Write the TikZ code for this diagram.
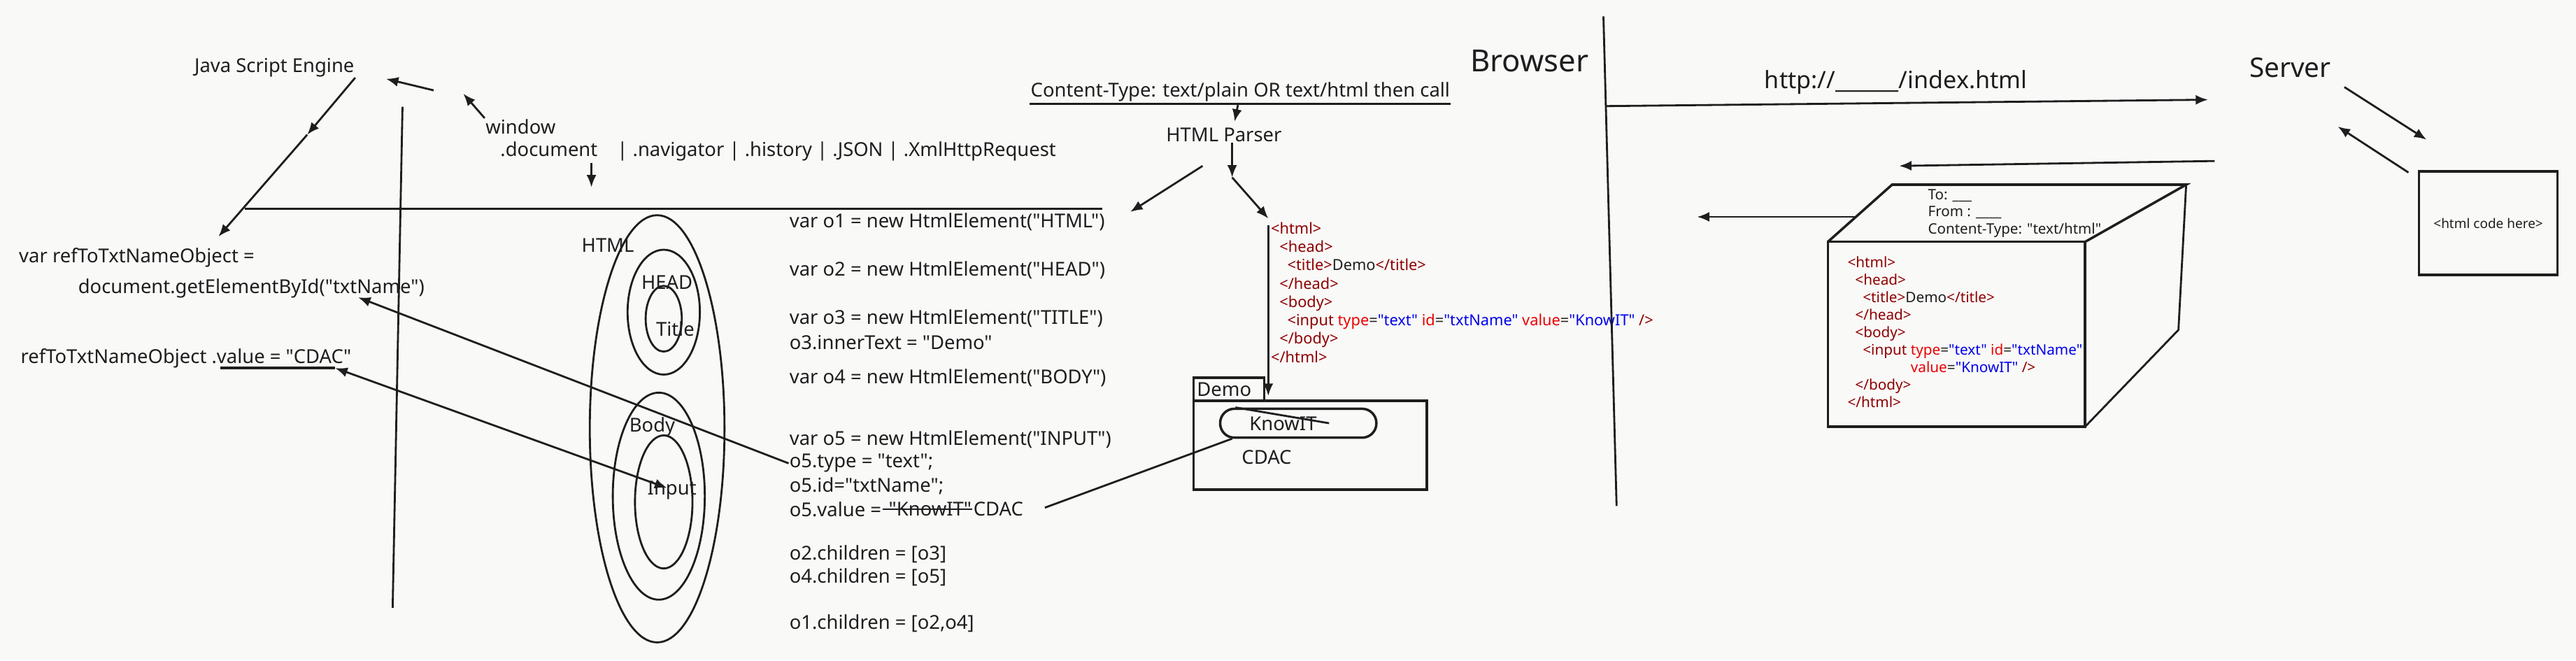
\documentclass[tikz,border=0pt]{standalone}
\usepackage{fontspec}
\setmainfont{Noto Sans}[Ligatures=TeXOff]
\usetikzlibrary{arrows.meta,positioning}

\definecolor{paper}{RGB}{249,249,248}
\definecolor{ink}{RGB}{30,30,30}
\definecolor{tagred}{RGB}{140,0,0}
\definecolor{attred}{RGB}{235,0,0}
\definecolor{valblue}{RGB}{0,0,235}

\newcommand{\tagc}[1]{\textcolor{tagred}{#1}}
\newcommand{\attc}[1]{\textcolor{attred}{#1}}
\newcommand{\valc}[1]{\textcolor{valblue}{#1}}

\tikzset{
  txt/.style={inner sep=0pt, text=ink, font=\fontsize{7.8}{9.4}\selectfont},
  codeline/.style={txt, anchor=west},
  src/.style={inner sep=0pt, align=left, anchor=north west, text=tagred},
  arr/.style={-{Latex[length=5pt,width=4pt]}},
  dblarr/.style={{Latex[length=5pt,width=4pt]}-{Latex[length=5pt,width=4pt]}}
}

\begin{document}
\begin{tikzpicture}[x=0.02349cm, y=-0.02349cm, line width=0.8pt, color=ink]
\path[use as bounding box, fill=paper] (0,0) rectangle (1568,402);

% JavaScript engine and the window object
\node[txt] (jse) at (167,41) {Java Script Engine};
\node[txt, anchor=west] (win) at (295,77) {window};
\node[txt, anchor=west] (winprops) at (304,92) {.document\hspace{8pt}| .navigator | .history | .JSON | .XmlHttpRequest};
\coordinate (jsemid) at (187,82);
\coordinate (refobjtip) at (133,144);
\coordinate (wintail) at (264,55);
\coordinate (wintip) at (235,48);
\coordinate (wintip2) at (282,57);
\coordinate (doctail) at (360,99);
\coordinate (doctip) at (360,114);
\draw[arr] (jse.south east) -- (jsemid);
\draw[arr] (jsemid) -- (refobjtip);
\draw[arr] (wintail) -- (wintip);
\draw[arr] (win.north west) -- (wintip2);
\draw[arr] (doctail) -- (doctip);

% divider lines
\coordinate (domL) at (149,127);
\coordinate (domR) at (671,127);
\coordinate (divtop) at (245,65);
\coordinate (divbot) at (239,370);
\draw[line width=1pt] (domL) -- (domR);
\draw (divtop) -- (divbot);

% script side
\node[txt, anchor=west] (refvar) at (11,157) {var refToTxtNameObject =};
\node[txt, anchor=west] (getel) at (47,175.5) {document.getElementById("txtName")};
\node[txt, anchor=west] (refval) at (12,218) {refToTxtNameObject .value = "CDAC"};
\coordinate (ulstart) at (134,224);
\coordinate (cdactip) at (204,224);
\coordinate (txtnametip) at (218,181);
\coordinate (inputtip) at (406,297);
\draw[line width=1pt] (ulstart) -- (cdactip);
\draw[dblarr] (cdactip) -- (inputtip);

% DOM tree as nested ellipses
\draw (400,261) ellipse [x radius=41, y radius=130];
\draw (404,190) ellipse [x radius=22, y radius=38];
\draw (404,194) ellipse [x radius=11, y radius=20];
\draw (401,302) ellipse [x radius=28, y radius=63];
\draw (404,305.5) ellipse [x radius=17.5, y radius=40.5];
\node[txt] (lhtml) at (370,149.5) {HTML};
\node[txt] (lhead) at (406,172) {HEAD};
\node[txt] (ltitle) at (411,200) {Title};
\node[txt] (lbody) at (397,260) {Body};
\node[txt] (linput) at (409,298.5) {Input};

% HtmlElement objects
\node[codeline] (new1) at (480,135) {var o1 = new HtmlElement("HTML")};
\node[codeline] (new2) at (480,164.5) {var o2 = new HtmlElement("HEAD")};
\node[codeline] (new3) at (480,194) {var o3 = new HtmlElement("TITLE")};
\node[codeline] (inner3) at (480,208.5) {o3.innerText = "Demo"};
\node[codeline] (new4) at (480,230) {var o4 = new HtmlElement("BODY")};
\node[codeline] (new5) at (480,267.5) {var o5 = new HtmlElement("INPUT")};
\node[codeline] (type5) at (480,282) {o5.type = "text";};
\node[codeline] (id5) at (480,296) {o5.id="txtName";};
\node[codeline] (val5) at (480,310) {o5.value =};
\node[txt, right=2.2pt of val5] (oldval) {"KnowIT"};
\node[txt, right=0pt of oldval] (newval) {CDAC};
\draw[line width=0.5pt] (val5.east) -- (oldval.east);
\node[codeline] (kids2) at (480,337.5) {o2.children = [o3]};
\node[codeline] (kids4) at (480,351.5) {o4.children = [o5]};
\node[codeline] (kids1) at (480,379.5) {o1.children = [o2,o4]};
\draw[arr] (type5.west) -- (txtnametip);
\coordinate (valtail) at (636,309);
\coordinate (knowfoot) at (750,267);
\draw (valtail) -- (knowfoot);

% HTML parser
\node[txt] (ctype) at (755,56) {Content-Type: text/plain OR text/html then call};
\draw[line width=0.9pt] ([yshift=-0.6pt]ctype.south west) -- ([yshift=-0.6pt]ctype.south east);
\node[txt] (parser) at (745,82) {HTML Parser};
\coordinate (parsertop) at (751.5,74);
\coordinate (split) at (750,108);
\coordinate (srctip) at (772,133);
\coordinate (objtail) at (732,101);
\coordinate (objtip) at (688,129);
\draw[arr] ([xshift=-1pt,yshift=-1pt]ctype.south) -- (parsertop);
\draw[arr] (parser.south -| split) -- (split);
\draw[arr] (split) -- (srctip);
\draw[arr] (objtail) -- (objtip);

% page source
\node[src, font=\fontsize{6.2}{7.47}\selectfont] (pagesrc) at (773,134.7) {%
\tagc{<html>}\\
\hspace*{3.5pt}\tagc{<head>}\\
\hspace*{6.7pt}\tagc{<title>}\textcolor{ink}{Demo}\tagc{</title>}\\
\hspace*{3.5pt}\tagc{</head>}\\
\hspace*{3.5pt}\tagc{<body>}\\
\hspace*{6.7pt}\tagc{<input} \attc{type}\textcolor{ink}{=}\valc{"text"} \attc{id}\textcolor{ink}{=}\valc{"txtName"} \attc{value}\textcolor{ink}{=}\valc{"KnowIT"} \tagc{/>}\\
\hspace*{3.5pt}\tagc{</body>}\\
\tagc{</html>}};
\coordinate (srcline) at (772,137);
\coordinate (rendertip) at (772,241);
\draw[arr] (srcline) -- (rendertip);

% rendered page
\draw[line width=1pt] (726.5,244) rectangle (868.5,298);
\draw[line width=1pt] (726.5,230) rectangle (769.5,244);
\node[txt, anchor=west] (tabtitle) at (728,237) {Demo};
\draw[line width=1pt, rounded corners=5.8pt] (742.7,248.8) rectangle (837.8,266.4);
\node[txt] (knowit) at (781,258) {KnowIT};
\node[txt] (cdac) at (771,278.5) {CDAC};
\coordinate (strikeA) at (752,248);
\coordinate (strikeB) at (809,257.6);
\draw (strikeA) -- (strikeB);

% browser and server
\node[txt, font=\fontsize{12.4}{14}\selectfont] (browser) at (931,37) {Browser};
\node[txt, font=\fontsize{11}{13}\selectfont] (server) at (1394,41) {Server};
\coordinate (lifetop) at (976,10);
\coordinate (lifebot) at (984,308);
\draw (lifetop) -- (lifebot);
\node[txt, font=\fontsize{9.7}{11}\selectfont] (url) at (1154,50) {http://\_\_\_\_\_\_/index.html};
\coordinate (reqtail) at (977,64.6);
\coordinate (reqtip) at (1344,60.7);
\coordinate (resptail) at (1348,98);
\coordinate (resptip) at (1156,101);
\draw[arr] (reqtail) -- (reqtip);
\draw[arr] (resptail) -- (resptip);

% file on the server
\node[draw, line width=1pt, minimum width=1.978cm, minimum height=1.482cm, inner sep=0pt, text=ink, font=\fontsize{5.4}{6}\selectfont] (codefile) at (1514.6,135.8) {<html code here>};
\coordinate (fetchtail) at (1427,53);
\coordinate (fetchtip) at (1477,85);
\coordinate (sendtail) at (1466,105);
\coordinate (sendtip) at (1423,77);
\draw[arr] (fetchtail) -- (fetchtip);
\draw[arr] (sendtail) -- (sendtip);

% response package
\draw[line width=1pt] (1112.6,147.2) rectangle (1269.2,259.7);
\draw[line width=1pt] (1112.6,147.2) -- (1151.7,112.4) -- (1330.7,112.4) -- (1269.2,147.2);
\draw (1330.7,112.4) -- (1326,200.8) -- (1269.2,259.7);
\coordinate (pkgtail) at (1129.7,132);
\coordinate (pkgtip) at (1033,132);
\draw[arr] (pkgtail) -- (pkgtip);
\node[src, text=ink, font=\fontsize{5.85}{7}\selectfont] (pkghead) at (1173,114.5) {To: \_\_\_\\From : \_\_\_\_\\Content-Type: "text/html"};
\node[src, font=\fontsize{5.9}{7.1}\selectfont] (pkgbody) at (1124,155.5) {%
\tagc{<html>}\\
\hspace*{3.1pt}\tagc{<head>}\\
\hspace*{6.2pt}\tagc{<title>}\textcolor{ink}{Demo}\tagc{</title>}\\
\hspace*{3.1pt}\tagc{</head>}\\
\hspace*{3.1pt}\tagc{<body>}\\
\hspace*{6.2pt}\tagc{<input} \attc{type}\textcolor{ink}{=}\valc{"text"} \attc{id}\textcolor{ink}{=}\valc{"txtName"}\\
\hspace*{25.7pt}\attc{value}\textcolor{ink}{=}\valc{"KnowIT"} \tagc{/>}\\
\hspace*{3.1pt}\tagc{</body>}\\
\tagc{</html>}};
\end{tikzpicture}
\end{document}
